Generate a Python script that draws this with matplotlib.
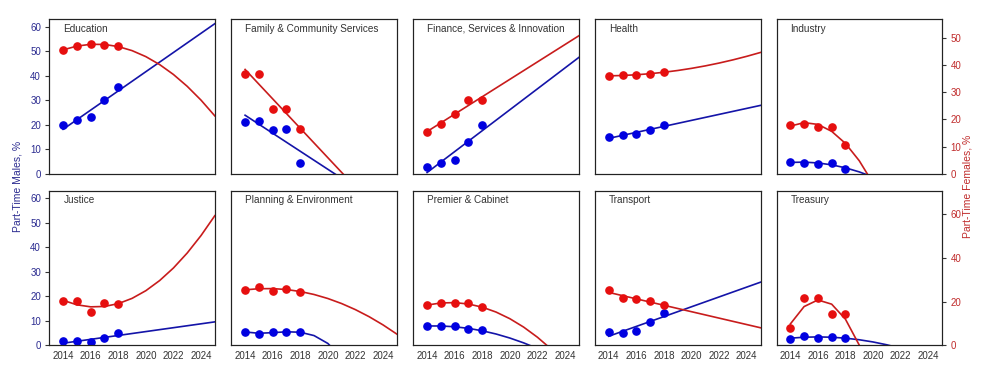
import numpy as np
import matplotlib
matplotlib.use("Agg")
import matplotlib.pyplot as plt

plt.rcParams['font.family'] = ['Liberation Sans', 'DejaVu Sans']

# ---------------- data ----------------
years = [2014, 2015, 2016, 2017, 2018]
fit_years = list(range(2014, 2026))
x_ticks = [2014, 2016, 2018, 2020, 2022, 2024]

clusters = ["Education", "Family & Community Services", "Finance, Services & Innovation",
            "Health", "Industry", "Justice", "Planning & Environment",
            "Premier & Cabinet", "Transport", "Treasury"]

# Part-time males, % (left axis)
education_m = [19.8, 21.9, 23.1, 30.0, 35.3]
family_m = [21.1, 21.5, 17.8, 18.2, 4.4]
finance_m = [2.7, 4.5, 5.7, 12.9, 19.8]
health_m = [14.9, 15.8, 16.3, 17.8, 20.0]
industry_m = [4.9, 4.6, 4.1, 4.5, 2.2]
justice_m = [1.6, 1.6, 1.35, 2.9, 4.9]
planning_m = [5.5, 4.8, 5.4, 5.4, 5.4]
premier_m = [7.9, 7.8, 8.0, 6.5, 6.1]
transport_m = [5.4, 4.9, 5.8, 9.5, 13.1]
treasury_m = [2.8, 3.7, 3.2, 3.3, 3.0]

# Part-time females, % (right axis)
education_f = [45.5, 46.8, 47.8, 47.2, 46.8]
family_f = [36.8, 36.8, 24.0, 23.7, 16.4]
finance_f = [15.4, 18.3, 22.0, 27.0, 27.0]
health_f = [35.9, 36.3, 36.2, 36.8, 37.3]
industry_f = [17.9, 18.5, 17.1, 17.4, 10.5]
justice_f = [20.2, 20.2, 15.4, 19.2, 18.8]
planning_f = [25.2, 26.7, 25.1, 26.0, 24.6]
premier_f = [18.5, 19.4, 19.4, 19.2, 17.4]
transport_f = [25.2, 21.5, 21.1, 20.2, 18.5]
treasury_f = [7.8, 21.5, 21.5, 14.2, 14.2]

# trend model (polynomial degree) per cluster
male_fit_degree = [1, 1, 1, 1, 2, 1, 3, 2, 1, 2]
female_fit_degree = [2, 1, 1, 2, 2, 2, 2, 2, 1, 2]

males = [education_m, family_m, finance_m, health_m, industry_m,
         justice_m, planning_m, premier_m, transport_m, treasury_m]
females = [education_f, family_f, finance_f, health_f, industry_f,
           justice_f, planning_f, premier_f, transport_f, treasury_f]

# ---------------- style ----------------
BLUE_PT = '#0000e0'
BLUE_LN = '#1414a8'
RED_PT = '#e60f0f'
RED_LN = '#c81c1c'
BLUE_TXT = '#2b2b90'
RED_TXT = '#c02b2b'
GRAY_TXT = '#333333'

fig = plt.figure(figsize=(9.85, 3.73), dpi=100)
W, H = 985.0, 373.0
col_lefts = [49.3, 231.3, 413.3, 595.0, 776.5]
ax_w = 165.5
row_tops = [19.3, 190.7]
ax_h = 154.7

left_ylim = (0, 63)
right_ylims = [(0, 56.7), (0, 70.8)]

fx = np.array(fit_years, dtype=float)
for i, name in enumerate(clusters):
    r, c = divmod(i, 5)
    rect = [col_lefts[c] / W, 1 - (row_tops[r] + ax_h) / H, ax_w / W, ax_h / H]
    ax = fig.add_axes(rect)
    ax2 = ax.twinx()

    # males on left axis
    cm = np.polyfit(years, males[i], male_fit_degree[i])
    ax.plot(fx, np.polyval(cm, fx), color=BLUE_LN, lw=1.2, zorder=2)
    ax.plot(years, males[i], 'o', color=BLUE_PT, ms=5.2, zorder=3)

    # females on right axis
    cf = np.polyfit(years, females[i], female_fit_degree[i])
    ax2.plot(fx, np.polyval(cf, fx), color=RED_LN, lw=1.2, zorder=2)
    ax2.plot(years, females[i], 'o', color=RED_PT, ms=5.2, zorder=3)

    ax.set_xlim(2013, 2025)
    ax.set_ylim(*left_ylim)
    ax2.set_ylim(*right_ylims[r])

    for a in (ax, ax2):
        for s in a.spines.values():
            s.set_color('#222222')
            s.set_linewidth(0.8)

    ax.set_yticks([0, 10, 20, 30, 40, 50, 60])
    if c == 0:
        ax.tick_params(axis='y', colors=BLUE_TXT, labelsize=7, length=3, width=0.8, pad=3)
        ax.tick_params(axis='y', color='#333333')
    else:
        ax.tick_params(axis='y', left=False, labelleft=False)

    if r == 1:
        ax2.set_yticks([0, 20, 40, 60])
    else:
        ax2.set_yticks([0, 10, 20, 30, 40, 50])
    if c == 4:
        ax2.tick_params(axis='y', colors=RED_TXT, labelsize=7, length=3, width=0.8, pad=3)
        ax2.tick_params(axis='y', color='#333333')
    else:
        ax2.tick_params(axis='y', right=False, labelright=False)

    ax.set_xticks(x_ticks)
    if r == 1:
        ax.set_xticklabels([str(t) for t in x_ticks])
        ax.tick_params(axis='x', length=0, labelsize=7, labelcolor=GRAY_TXT, pad=4)
    else:
        ax.tick_params(axis='x', bottom=False, labelbottom=False)
    ax2.tick_params(axis='x', bottom=False, labelbottom=False)

    ax.text(0.085, 0.94, name, transform=ax.transAxes, fontsize=7.2,
            color=GRAY_TXT, ha='left', va='center', zorder=5)

fig.text(18 / W, 0.5, "Part-Time Males, %", rotation=90, color=BLUE_TXT,
         fontsize=7.5, ha='center', va='center')
fig.text(968 / W, 0.5, "Part-Time Females, %", rotation=90, color=RED_TXT,
         fontsize=7.5, ha='center', va='center')

fig.savefig("out.png", dpi=100, facecolor='white')
